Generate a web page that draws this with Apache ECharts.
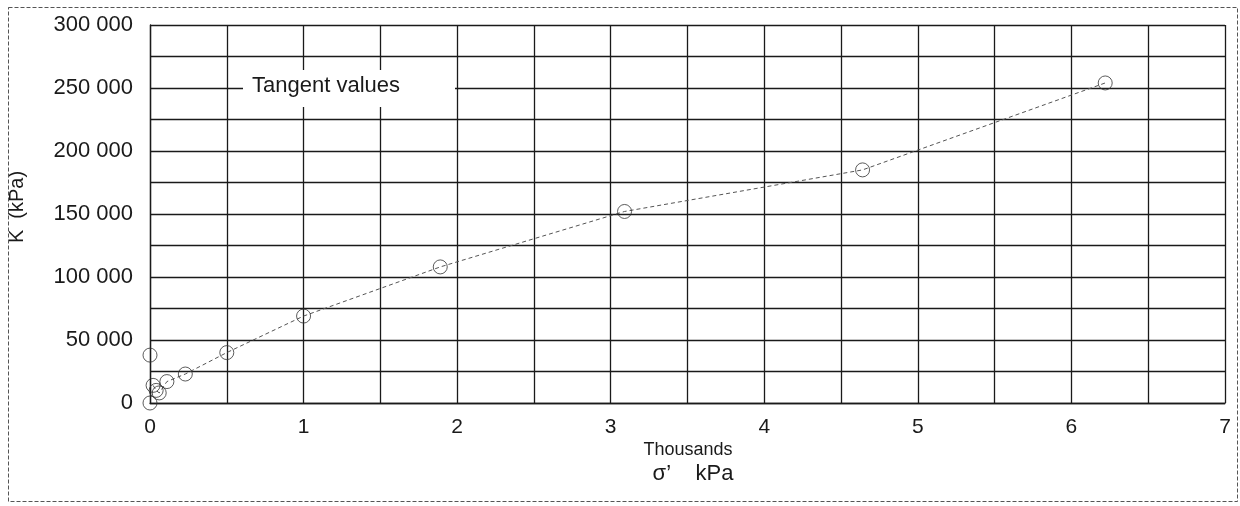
<!DOCTYPE html>
<html>
<head>
<meta charset="utf-8">
<script src="https://cdn.jsdelivr.net/npm/echarts@6/dist/echarts.min.js"></script>
<style>
html,body{margin:0;padding:0;background:#fff;}
#chart{width:1240px;height:506px;}
</style>
</head>
<body>
<div id="chart"></div>
<script>
// Effective stress sigma' (thousands of kPa)
const sigma = [0, 0, 0.02, 0.04, 0.06, 0.11, 0.23, 0.5, 1.0, 1.89, 3.09, 4.64, 6.22];
// Tangent bulk modulus K (kPa)
const K = [0, 38000, 14000, 10000, 8000, 17000, 23000, 40000, 69000, 108000, 152000, 185000, 254000];
// Points joined by the trend line start at this index
const lineFrom = 2;

const xTicks = [0, 1, 2, 3, 4, 5, 6, 7];
const yTicks = [0, 50000, 100000, 150000, 200000, 250000, 300000];

const pts = sigma.map((s, i) => [s, K[i]]);
const linePts = pts.slice(lineFrom);

function fmtThousands(v) {
  return String(v).replace(/\B(?=(\d{3})+(?!\d))/g, ' ');
}

const font = '"Liberation Sans", Arial, sans-serif';
const chart = echarts.init(document.getElementById('chart'), null, {renderer: 'canvas'});
chart.setOption({
  backgroundColor: '#fff',
  animation: false,
  grid: {left: 150, right: 15, top: 25, bottom: 103, containLabel: false},
  xAxis: {
    type: 'value',
    min: xTicks[0], max: xTicks[xTicks.length - 1], interval: 1,
    axisLine: {show: true, onZero: false, lineStyle: {color: '#1a1a1a', width: 1.3}},
    axisTick: {show: false},
    minorTick: {show: false, splitNumber: 2},
    minorSplitLine: {show: true, lineStyle: {color: '#1a1a1a', width: 1.3}},
    splitLine: {show: true, lineStyle: {color: '#1a1a1a', width: 1.3}},
    axisLabel: {color: '#1a1a1a', fontSize: 21, fontFamily: font, margin: 14}
  },
  yAxis: {
    type: 'value',
    min: yTicks[0], max: yTicks[yTicks.length - 1], interval: 50000,
    axisLine: {show: true, onZero: false, lineStyle: {color: '#1a1a1a', width: 1.3}},
    axisTick: {show: false},
    minorTick: {show: false, splitNumber: 2},
    minorSplitLine: {show: true, lineStyle: {color: '#1a1a1a', width: 1.3}},
    splitLine: {show: true, lineStyle: {color: '#1a1a1a', width: 1.3}},
    axisLabel: {color: '#1a1a1a', fontSize: 22, fontFamily: font, margin: 17, formatter: fmtThousands}
  },
  graphic: [
    {type: 'rect', left: 6, top: 5, shape: {width: 1229, height: 494},
     style: {fill: 'none', stroke: '#555', lineWidth: 1, lineDash: [4, 2]}, z: 100, silent: true},
    {type: 'rect', left: 243, top: 70, shape: {width: 212, height: 37},
     style: {fill: '#fff', stroke: 'none'}, z: 50},
    {type: 'text', x: 252, y: 86, z: 51,
     style: {text: 'Tangent values', fill: '#1a1a1a', font: '22px ' + font, textVerticalAlign: 'middle'}},
    {type: 'text', x: 688, y: 450, z: 51,
     style: {text: 'Thousands', fill: '#1a1a1a', font: '18px ' + font, textAlign: 'center', textVerticalAlign: 'middle'}},
    {type: 'text', x: 693, y: 474, z: 51,
     style: {text: 'σ\u2019    kPa', fill: '#1a1a1a', font: '22px ' + font, textAlign: 'center', textVerticalAlign: 'middle'}},
    {type: 'text', x: 17, y: 207, rotation: Math.PI / 2, z: 51,
     style: {text: 'K  (kPa)', fill: '#1a1a1a', font: '20px ' + font, textAlign: 'center', textVerticalAlign: 'middle'}}
  ],
  series: [
    {
      type: 'line', data: linePts, showSymbol: false, symbol: 'none',
      lineStyle: {color: '#555', width: 1, type: [4, 3]}, z: 3
    },
    {
      type: 'scatter', data: pts, symbol: 'circle', symbolSize: 14,
      itemStyle: {color: 'rgba(0,0,0,0)', borderColor: '#333', borderWidth: 1}, z: 4
    }
  ]
});
</script>
</body>
</html>
